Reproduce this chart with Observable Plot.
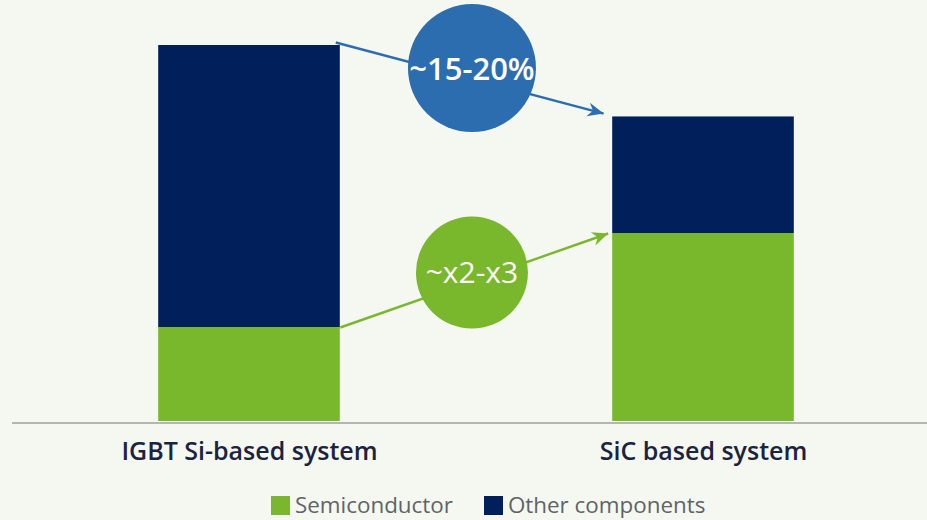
<!DOCTYPE html>
<html>
<head>
<meta charset="utf-8">
<script src="https://cdn.jsdelivr.net/npm/d3@7"></script>
<script src="https://cdn.jsdelivr.net/npm/@observablehq/plot@0.6"></script>
<style>
  html, body { margin: 0; padding: 0; background: #f5f8f1; }
  body { width: 927px; height: 520px; overflow: hidden; font-family: "Open Sans", sans-serif; }
  #legend { display: flex; align-items: center; margin-left: 271px; height: 34px; font-size: 22.4px; line-height: 26px; color: #5f6468; }
  #legend .item { display: flex; align-items: center; margin-right: 31px; }
  #legend .sw { width: 19px; height: 19px; margin-right: 5px; }
</style>
</head>
<body>
<div id="chart"></div>
<div id="legend"></div>
<script>
const categories = ["IGBT Si-based system", "SiC based system"];
const parts = ["Semiconductor", "Other components"];
const semiconductor = [25, 50];
const other = [75, 31];
const colors = ["#79b72c", "#001f5b"];
const annotations = ["~15-20%", "~x2-x3"];

const blue = "#2c6db0";
const half = 0.2;
const rows = [];
categories.forEach((c, i) => {
  rows.push({i, part: parts[0], y1: 0, y2: semiconductor[i]});
  rows.push({i, part: parts[1], y1: semiconductor[i], y2: semiconductor[i] + other[i]});
});
const tot = categories.map((c, i) => semiconductor[i] + other[i]);

// arrows link the bar tops (total, then semiconductor share)
const totalArrow = [{x1: 0 + half - 0.01, y1: tot[0] + 0.8, x2: 1 - half - 0.02, y2: tot[1] + 0.9}];
const semiArrow = [{x1: 0 + half, y1: semiconductor[0], x2: 1 - half - 0.01, y2: semiconductor[1]}];
const totalBubble = [{x: 0.49, y: 94, label: annotations[0]}];
const semiBubble = [{x: 0.49, y: 39.6, label: annotations[1]}];

function filledArrow(color) {
  return d3.create("svg:marker")
    .attr("viewBox", "-17 -9 18 18")
    .attr("markerWidth", 18)
    .attr("markerHeight", 18)
    .attr("markerUnits", "userSpaceOnUse")
    .attr("orient", "auto")
    .attr("fill", color)
    .attr("stroke", "none")
    .call(m => m.append("path").attr("d", "M-16,-7 L0,0 L-16,7 L-11,0 Z"))
    .node();
}

const plot = Plot.plot({
  width: 927,
  height: 488,
  marginLeft: 12,
  marginRight: 0,
  marginTop: 0,
  marginBottom: 66,
  style: {background: "transparent", fontFamily: "Open Sans, sans-serif"},
  x: {domain: [0, 1], range: [249, 703], axis: null},
  y: {domain: [0, 100], range: [421, 45], axis: null},
  color: {domain: parts, range: colors},
  marks: [
    Plot.rect(rows, {x1: d => d.i - half, x2: d => d.i + half, y1: "y1", y2: "y2", fill: "part"}),
    Plot.ruleY([0], {stroke: "#b4b6b2", strokeWidth: 2, dy: 1.5}),
    Plot.link(totalArrow, {x1: "x1", y1: "y1", x2: "x2", y2: "y2", stroke: blue, strokeWidth: 2.4, markerEnd: filledArrow}),
    Plot.link(semiArrow, {x1: "x1", y1: "y1", x2: "x2", y2: "y2", stroke: colors[0], strokeWidth: 2.4, markerEnd: filledArrow}),
    Plot.dot(totalBubble, {x: "x", y: "y", r: 64, fill: blue}),
    Plot.dot(semiBubble, {x: "x", y: "y", r: 56, fill: colors[0]}),
    Plot.text(totalBubble, {x: "x", y: "y", text: "label", fill: "white", fontSize: 31, fontWeight: 600, dy: 2}),
    Plot.text(semiBubble, {x: "x", y: "y", text: "label", fill: "white", fontSize: 30, fontWeight: 500, dy: 1}),
    Plot.axisX({ticks: [0, 1], tickFormat: i => categories[i], tickSize: 0, tickPadding: 20, fontSize: 25, fontWeight: 600, color: "#1b2340", anchor: "bottom"})
  ]
});
document.getElementById("chart").appendChild(plot);

const legend = document.getElementById("legend");
parts.forEach((p, k) => {
  const it = document.createElement("div");
  it.className = "item";
  it.innerHTML = `<div class="sw" style="background:${colors[k]}"></div><span>${p}</span>`;
  legend.appendChild(it);
});
</script>
</body>
</html>
